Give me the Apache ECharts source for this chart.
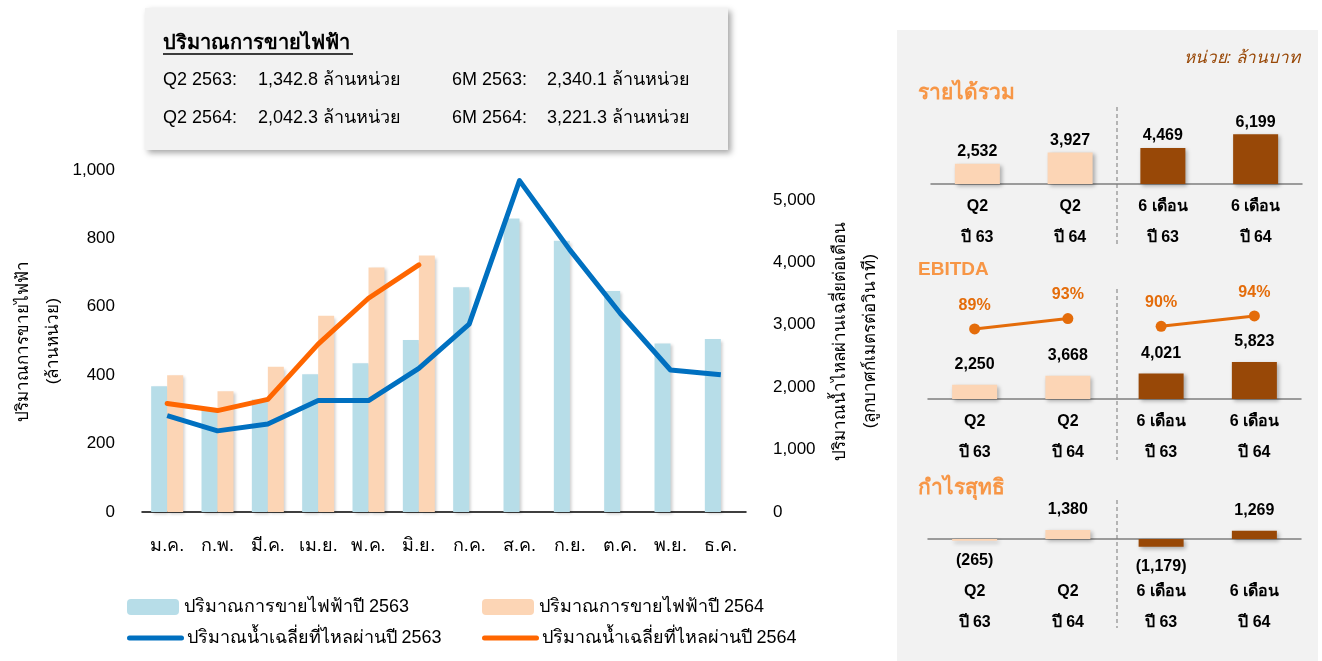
<!DOCTYPE html>
<html>
<head>
<meta charset="utf-8">
<script src="https://cdn.jsdelivr.net/npm/echarts@6/dist/echarts.min.js"></script>
<style>
  html, body { margin: 0; padding: 0; background: #fff; }
  #chart { width: 1322px; height: 661px; }
</style>
</head>
<body>
<div id="chart"></div>
<script>
// monthly data
const months = ['ม.ค.', 'ก.พ.', 'มี.ค.', 'เม.ย.', 'พ.ค.', 'มิ.ย.', 'ก.ค.', 'ส.ค.', 'ก.ย.', 'ต.ค.', 'พ.ย.', 'ธ.ค.'];
const sales2563 = [368, 300, 329, 403, 435, 503, 657, 858, 793, 646, 493, 506];
const sales2564 = [400, 353, 425, 574, 715, 750, '-', '-', '-', '-', '-', '-'];
const flow2563 = [1545, 1300, 1410, 1785, 1785, 2300, 3010, 5310, 4200, 3185, 2275, 2200];
const flow2564 = [1740, 1625, 1805, 2690, 3425, 3960, '-', '-', '-', '-', '-', '-'];

// financial panel
const finCategories = ['Q2\nปี 63', 'Q2\nปี 64', '6 เดือน\nปี 63', '6 เดือน\nปี 64'];
const revenue = [2532, 3927, 4469, 6199];
const ebitda = [2250, 3668, 4021, 5823];
const ebitdaMargin = [89, 93, 90, 94];
const netProfit = [-265, 1380, -1179, 1269];

const FONT = "'Liberation Sans', Arial, sans-serif";
const LIGHT = '#FCD5B5';
const DARK = '#984807';
const fmt = v => v.toLocaleString('en-US');
const fmtNeg = v => v < 0 ? '(' + fmt(-v) + ')' : fmt(v);
const barShadow = { shadowBlur: 4, shadowOffsetX: 2, shadowOffsetY: 2, shadowColor: 'rgba(0,0,0,0.3)' };
const finColor = p => p.dataIndex < 2 ? LIGHT : DARK;

var myChart = echarts.init(document.getElementById('chart'));

function finXAxis(gridIndex, margin) {
  return {
    type: 'category', gridIndex: gridIndex, data: finCategories,
    axisLine: { onZero: true, lineStyle: { color: '#7F7F7F', width: 1.5 } },
    axisTick: { show: false },
    axisLabel: { interval: 0, margin: margin, color: '#000', fontFamily: FONT, fontWeight: 'bold', fontSize: 16, lineHeight: 31 }
  };
}
function hiddenY(gridIndex, min, max) {
  return { type: 'value', gridIndex: gridIndex, min: min, max: max, show: false, splitLine: { show: false } };
}
const finLabel = { show: true, color: '#000', fontFamily: FONT, fontWeight: 'bold', fontSize: 16 };

const legendBase = {
  padding: 0, itemWidth: 52, itemHeight: 16,
  textStyle: { color: '#000', fontSize: 18, fontFamily: FONT }
};
const legendLine = Object.assign({}, legendBase, {
  itemStyle: { opacity: 0 },
  lineStyle: { width: 5, cap: 'round' }
});

var option = {
  animation: false,
  textStyle: { fontFamily: FONT },
  grid: [
    { left: 142, top: 170, width: 604, height: 342 },
    { left: 931, top: 110, width: 371, height: 74 },
    { left: 928, top: 290, width: 373, height: 109 },
    { left: 928, top: 505, width: 373, height: 49 }
  ].map(g => Object.assign(g, { outerBoundsMode: 'none', containLabel: false })),
  legend: [
    Object.assign({ data: ['ปริมาณการขายไฟฟ้าปี 2563'], left: 127, top: 598 }, legendBase),
    Object.assign({ data: ['ปริมาณการขายไฟฟ้าปี 2564'], left: 482, top: 598 }, legendBase),
    Object.assign({ data: ['ปริมาณน้ำเฉลี่ยที่ไหลผ่านปี 2563'], left: 127, top: 629 }, legendLine),
    Object.assign({ data: ['ปริมาณน้ำเฉลี่ยที่ไหลผ่านปี 2564'], left: 482, top: 629 }, legendLine)
  ],
  xAxis: [
    {
      type: 'category', gridIndex: 0, data: months,
      axisLine: { lineStyle: { color: '#000', width: 1.5 } },
      axisTick: { show: false },
      axisLabel: { interval: 0, margin: 25, color: '#000', fontSize: 18, fontFamily: FONT }
    },
    finXAxis(1, 7),
    finXAxis(2, 7),
    finXAxis(3, 22)
  ],
  yAxis: [
    {
      type: 'value', gridIndex: 0, min: 0, max: 1000, interval: 200,
      name: 'ปริมาณการขายไฟฟ้า\n(ล้านหน่วย)', nameLocation: 'middle', nameRotate: 90, nameGap: 63,
      nameTextStyle: { color: '#000', fontSize: 17, lineHeight: 30, fontFamily: FONT },
      axisLine: { show: false }, axisTick: { show: false }, splitLine: { show: false },
      axisLabel: { margin: 27, color: '#000', fontSize: 17, fontFamily: FONT, formatter: fmt }
    },
    {
      type: 'value', gridIndex: 0, position: 'right', min: 0, max: 5480, interval: 1000,
      name: 'ปริมาณน้ำไหลผ่านเฉลี่ยต่อเดือน\n(ลูกบาศก์เมตรต่อวินาที)', nameLocation: 'middle', nameRotate: 90, nameGap: 79,
      nameTextStyle: { color: '#000', fontSize: 17, lineHeight: 30, fontFamily: FONT },
      axisLine: { show: false }, axisTick: { show: false }, splitLine: { show: false },
      axisLabel: { margin: 27, color: '#000', fontSize: 17, fontFamily: FONT, formatter: fmt, showMaxLabel: false }
    },
    hiddenY(1, 0, 9200),
    hiddenY(2, 0, 17165),
    hiddenY(2, 62, 104),
    hiddenY(3, -2308, 5230)
  ],
  series: [
    {
      name: 'ปริมาณการขายไฟฟ้าปี 2563', type: 'bar', xAxisIndex: 0, yAxisIndex: 0,
      data: sales2563, barWidth: 16, barGap: '0%',
      itemStyle: Object.assign({ color: '#B7DDE8' }, barShadow, { shadowBlur: 3, shadowColor: 'rgba(0,0,0,0.2)' })
    },
    {
      name: 'ปริมาณการขายไฟฟ้าปี 2564', type: 'bar', xAxisIndex: 0, yAxisIndex: 0,
      data: sales2564, barWidth: 16, barGap: '0%',
      itemStyle: Object.assign({ color: LIGHT }, barShadow, { shadowBlur: 3, shadowColor: 'rgba(0,0,0,0.2)' })
    },
    {
      name: 'ปริมาณน้ำเฉลี่ยที่ไหลผ่านปี 2563', type: 'line', xAxisIndex: 0, yAxisIndex: 1,
      data: flow2563, symbol: 'none', z: 5,
      lineStyle: { color: '#0070C0', width: 5, join: 'round' }, itemStyle: { color: '#0070C0' }
    },
    {
      name: 'ปริมาณน้ำเฉลี่ยที่ไหลผ่านปี 2564', type: 'line', xAxisIndex: 0, yAxisIndex: 1,
      data: flow2564, symbol: 'none', z: 5,
      lineStyle: { color: '#FF6600', width: 5, cap: 'round', join: 'round' }, itemStyle: { color: '#FF6600' }
    },
    {
      name: 'รายได้รวม', type: 'bar', xAxisIndex: 1, yAxisIndex: 2, data: revenue, barWidth: 45,
      itemStyle: Object.assign({ color: finColor }, barShadow),
      label: Object.assign({ position: 'top', distance: 4, formatter: p => fmt(p.value) }, finLabel)
    },
    {
      name: 'EBITDA', type: 'bar', xAxisIndex: 2, yAxisIndex: 3, data: ebitda, barWidth: 45,
      itemStyle: Object.assign({ color: finColor }, barShadow),
      label: Object.assign({ position: 'top', distance: 12, formatter: p => fmt(p.value) }, finLabel)
    },
    ...[[0, 1], [2, 3]].map(pair => ({
      name: 'EBITDA margin', type: 'line', xAxisIndex: 2, yAxisIndex: 4,
      data: ebitdaMargin.map((v, i) => pair.includes(i) ? v : '-'),
      symbol: 'circle', symbolSize: 11, z: 5,
      lineStyle: { color: '#E46C0A', width: 3 }, itemStyle: { color: '#E46C0A' },
      label: { show: true, position: 'top', distance: 10, color: '#E46C0A', fontFamily: FONT,
        fontWeight: 'bold', fontSize: 16, formatter: p => p.value + '%' }
    })),
    {
      name: 'กำไรสุทธิ', type: 'bar', xAxisIndex: 3, yAxisIndex: 5, barWidth: 45, clip: false,
      data: netProfit.map(v => ({ value: v, label: { position: v < 0 ? 'bottom' : 'top' } })),
      itemStyle: Object.assign({ color: finColor }, barShadow),
      label: Object.assign({ distance: 12, formatter: p => fmtNeg(p.value) }, finLabel)
    }
  ],
  graphic: [
    // right gray panel
    { type: 'rect', z: -10, shape: { x: 897, y: 30, width: 421, height: 631 }, style: { fill: '#F2F2F2' } },
    { type: 'text', style: { x: 1300, y: 58, text: 'หน่วย: ล้านบาท', align: 'right', verticalAlign: 'middle',
      font: 'italic 17px ' + FONT, fill: DARK } },
    { type: 'text', style: { x: 918, y: 93, text: 'รายได้รวม', verticalAlign: 'middle',
      font: 'bold 21px ' + FONT, fill: '#F79646' } },
    { type: 'text', style: { x: 918, y: 270, text: 'EBITDA', verticalAlign: 'middle',
      font: 'bold 19px ' + FONT, fill: '#F79646' } },
    { type: 'text', style: { x: 918, y: 488, text: 'กำไรสุทธิ', verticalAlign: 'middle',
      font: 'bold 21px ' + FONT, fill: '#F79646' } },
    ...[[107, 245], [289, 460], [500, 628]].map(s => ({
      type: 'line', shape: { x1: 1117, y1: s[0], x2: 1117, y2: s[1] },
      style: { stroke: '#8C8C8C', lineWidth: 1.2, lineDash: [4, 3] }
    })),
    // summary box
    { type: 'rect', z: -5, shape: { x: 145, y: 8, width: 583, height: 142 },
      style: { fill: '#F2F2F2', shadowBlur: 6, shadowOffsetX: 3, shadowOffsetY: 3, shadowColor: 'rgba(0,0,0,0.35)' } },
    { type: 'text', style: { x: 163, y: 43, text: 'ปริมาณการขายไฟฟ้า', verticalAlign: 'middle',
      font: 'bold 20px ' + FONT, fill: '#000' } },
    { type: 'line', shape: { x1: 163, y1: 54, x2: 353, y2: 54 }, style: { stroke: '#000', lineWidth: 1.5 } },
    ...[
      ['Q2 2563:', '1,342.8 ล้านหน่วย', 163, 258, 80],
      ['Q2 2564:', '2,042.3 ล้านหน่วย', 163, 258, 118],
      ['6M 2563:', '2,340.1 ล้านหน่วย', 452, 547, 80],
      ['6M 2564:', '3,221.3 ล้านหน่วย', 452, 547, 118]
    ].flatMap(r => [
      { type: 'text', style: { x: r[2], y: r[4], text: r[0], verticalAlign: 'middle', font: '18px ' + FONT, fill: '#000' } },
      { type: 'text', style: { x: r[3], y: r[4], text: r[1], verticalAlign: 'middle', font: '18px ' + FONT, fill: '#000' } }
    ])
  ]
};
option && myChart.setOption(option);
</script>
</body>
</html>
